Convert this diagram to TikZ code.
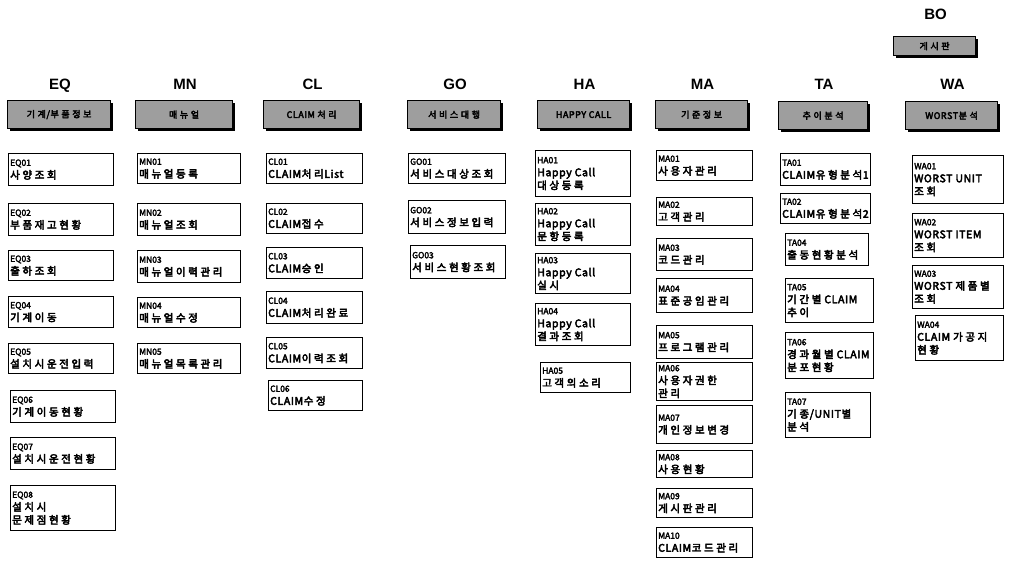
\documentclass[tikz,border=0pt]{standalone}
\usepackage{fontspec}
\setmainfont{Liberation Sans}
\newfontfamily\kr{Noto Sans CJK KR}[FakeBold=4,LetterSpace=6]
\newfontfamily\krid{Noto Sans CJK KR}[FakeBold=3]
\newcount\hangulc
\hangulc="AC00
\loop\XeTeXcharclass\hangulc=7 \advance\hangulc by 1 \ifnum\hangulc<"D7A4 \repeat
\XeTeXinterchartoks 7 7 {\hskip 2.6pt\relax}
\begin{document}
\begin{tikzpicture}[x=1pt,y=-1pt,
  lbl/.style={font=\bfseries\fontsize{15}{15}\selectfont, inner sep=0pt},
  hdr/.style={draw=black, line width=1.2pt, fill=black!38, inner sep=0pt,
    font=\kr\fontsize{9}{10}\selectfont},
  subbox/.style={draw=black, line width=1.1pt, fill=white, inner sep=0pt},
  subtext/.style={align=left, inner sep=0pt, anchor=west,
    font=\kr\fontsize{10.5}{13}\selectfont}]
\XeTeXinterchartokenstate=1
\useasboundingbox (0,0) rectangle (1014,562);
\newcommand\hd[8]{%
  \fill[black] (#2+3,#3+3) rectangle (#4+3,#5+3);
  \node[hdr, anchor=north west, minimum width={#4-#2}, minimum height={#5-#3}] (#1) at (#2,#3) {#6};
  \node[lbl, anchor=base] (#1l) at ({(#2+#4)/2+1.5},#3-#8) {#7};}
\newcommand\bx[6]{%
  \fill[black] (#2+1.2,#3+1.2) rectangle (#4+1.2,#5+1.2);
  \node[subbox, anchor=north west, minimum width={#4-#2}, minimum height={#5-#3}] (#1) at (#2,#3) {};
  \node[subtext] (#1t) at ([xshift=2pt]#1.west) {#6};}
\newcommand\id[1]{{\krid\fontsize{8.5}{10}\selectfont #1}}
% headers
\hd{eq}{7}{100}{110}{128}{기계/부품정보}{EQ}{11}
\hd{mn}{135}{100}{232}{128}{매뉴얼}{MN}{11}
\hd{cl}{263}{100}{359}{128}{CLAIM 처리}{CL}{11}
\hd{go}{407}{100}{500}{128}{서비스대행}{GO}{11}
\hd{ha}{537}{100}{629}{128}{HAPPY CALL}{HA}{11}
\hd{ma}{655}{100}{747}{128}{기준정보}{MA}{11}
\hd{ta}{778}{101}{867}{129}{추이분석}{TA}{12}
\hd{wa}{905}{101}{997}{129}{WORST분석}{WA}{12}
\hd{bo}{893}{36}{975}{55}{게시판}{BO}{17}
% EQ
\bx{eq01}{8}{153}{113}{185}{\id{EQ01}\\사양조회}
\bx{eq02}{8}{203}{113}{235}{\id{EQ02}\\부품재고현황}
\bx{eq03}{8}{250}{113}{280}{\id{EQ03}\\출하조회}
\bx{eq04}{8}{296}{113}{327}{\id{EQ04}\\기계이동}
\bx{eq05}{8}{343}{113}{373}{\id{EQ05}\\설치시운전입력}
\bx{eq06}{10}{390}{115}{422}{\id{EQ06}\\기계이동현황}
\bx{eq07}{10}{437}{115}{469}{\id{EQ07}\\설치시운전현황}
\bx{eq08}{10}{485}{115}{530}{\id{EQ08}\\설치시\\문제점현황}
% MN
\bx{mn01}{137}{153}{240}{183}{\id{MN01}\\매뉴얼등록}
\bx{mn02}{137}{203}{240}{235}{\id{MN02}\\매뉴얼조회}
\bx{mn03}{137}{250}{240}{282}{\id{MN03}\\매뉴얼이력관리}
\bx{mn04}{137}{297}{240}{327}{\id{MN04}\\매뉴얼수정}
\bx{mn05}{137}{343}{240}{373}{\id{MN05}\\매뉴얼목록관리}
% CL
\bx{cl01}{266}{153}{362}{183}{\id{CL01}\\CLAIM처리List}
\bx{cl02}{266}{203}{362}{233}{\id{CL02}\\CLAIM접수}
\bx{cl03}{266}{247}{362}{278}{\id{CL03}\\CLAIM승인}
\bx{cl04}{266}{291}{362}{323}{\id{CL04}\\CLAIM처리완료}
\bx{cl05}{266}{337}{362}{368}{\id{CL05}\\CLAIM이력조회}
\bx{cl06}{268}{380}{362}{410}{\id{CL06}\\CLAIM수정}
% GO
\bx{go01}{408}{153}{505}{183}{\id{GO01}\\서비스대상조회}
\bx{go02}{408}{200}{505}{233}{\id{GO02}\\서비스정보입력}
\bx{go03}{410}{245}{505}{278}{\id{GO03}\\서비스현황조회}
% HA
\bx{ha01}{535}{150}{630}{196}{\id{HA01}\\Happy Call\\대상등록}
\bx{ha02}{535}{203}{630}{245}{\id{HA02}\\Happy Call\\문항등록}
\bx{ha03}{535}{253}{630}{293}{\id{HA03}\\Happy Call\\실시}
\bx{ha04}{535}{303}{630}{345}{\id{HA04}\\\textit{Happy Call}\\결과조회}
\bx{ha05}{540}{362}{630}{392}{\id{HA05}\\고객의소리}
% MA
\bx{ma01}{656}{150}{752}{180}{\id{MA01}\\사용자관리}
\bx{ma02}{656}{197}{752}{225}{\id{MA02}\\고객관리}
\bx{ma03}{656}{238}{752}{270}{\id{MA03}\\코드관리}
\bx{ma04}{656}{278}{752}{312}{\id{MA04}\\표준공임관리}
\bx{ma05}{656}{325}{752}{358}{\id{MA05}\\프로그램관리}
\bx{ma06}{656}{362}{752}{400}{\id{MA06}\\사용자권한\\관리}
\bx{ma07}{656}{405}{752}{443}{\id{MA07}\\개인정보변경}
\bx{ma08}{656}{450}{752}{477}{\id{MA08}\\사용현황}
\bx{ma09}{656}{488}{752}{517}{\id{MA09}\\게시판관리}
\bx{ma10}{656}{527}{752}{557}{\id{MA10}\\CLAIM코드관리}
% TA
\bx{ta01}{780}{153}{870}{185}{\id{TA01}\\CLAIM유형분석1}
\bx{ta02}{780}{193}{870}{223}{\id{TA02}\\CLAIM유형분석2}
\bx{ta04}{785}{233}{868}{265}{\id{TA04}\\출동현황분석}
\bx{ta05}{785}{278}{873}{322}{\id{TA05}\\기간별 CLAIM\\추이}
\bx{ta06}{785}{332}{873}{378}{\id{TA06}\\경과월별 CLAIM\\분포현황}
\bx{ta07}{785}{392}{870}{437}{\id{TA07}\\기종/UNIT별\\분석}
% WA
\bx{wa01}{912}{155}{1003}{203}{\id{WA01}\\WORST UNIT\\조회}
\bx{wa02}{912}{213}{1003}{257}{\id{WA02}\\WORST ITEM\\조회}
\bx{wa03}{912}{265}{1003}{308}{\id{WA03}\\WORST 제품별\\조회}
\bx{wa04}{915}{315}{1003}{360}{\id{WA04}\\CLAIM 가공지\\현황}
\end{tikzpicture}
\end{document}
